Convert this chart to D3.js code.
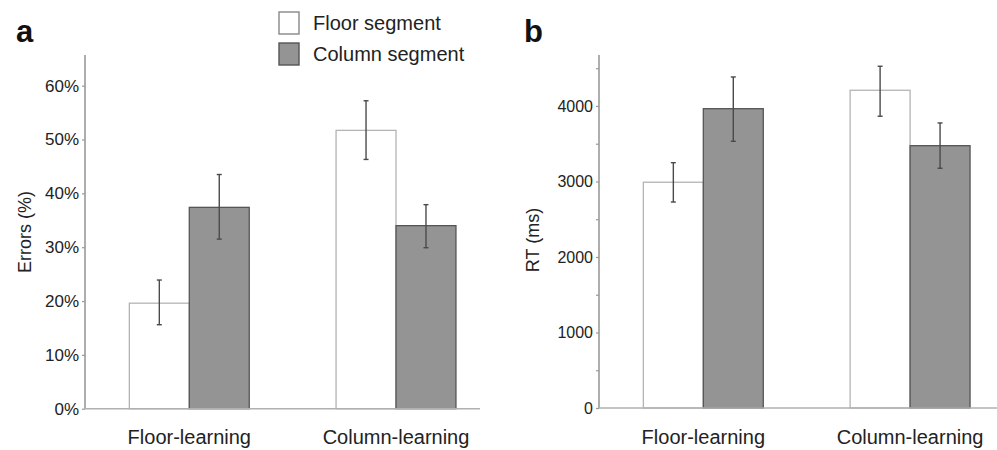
<!DOCTYPE html>
<html>
<head>
<meta charset="utf-8">
<script src="https://cdn.jsdelivr.net/npm/d3@7"></script>
<style>
  body { margin: 0; background: #fff; }
  text { font-family: Arial, "Liberation Sans", sans-serif; fill: #222; }
</style>
</head>
<body>
<svg id="chart" width="997" height="450"></svg>
<script>
// conditions and segments
var groups = ["Floor-learning", "Column-learning"]
var segments = ["Floor segment", "Column segment"]

// panel a: errors (%), [floor segment, column segment] per group
var errMean = [[19.6, 37.4], [51.7, 34.0]]
var errLow  = [[15.6, 31.5], [46.3, 29.9]]
var errHigh = [[23.9, 43.5], [57.2, 37.9]]
var errTicks = [0, 10, 20, 30, 40, 50, 60]

// panel b: RT (ms)
var rtMean = [[2990, 3964], [4208, 3474]]
var rtLow  = [[2728, 3532], [3864, 3175]]
var rtHigh = [[3249, 4384], [4526, 3775]]
var rtTicks = [0, 1000, 2000, 3000, 4000]
var rtMinor = [500, 1500, 2500, 3500, 4500]

var fills = ["#ffffff", "#949494"]
var strokes = ["#b4b4b4", "#555555"]

var svg = d3.select("#chart")

function panel(opt) {
    var g = svg.append("g")

    var y = d3.scaleLinear().domain(opt.domain).range([opt.bottom, opt.top])

    // group bands, each band holds two adjacent bars
    var x = d3.scaleBand().domain(groups).range(opt.xRange).paddingInner(0.42).paddingOuter(0.2145)
    var x1 = d3.scaleBand().domain([0, 1]).range([0, x.bandwidth()])

    // bars
    groups.forEach(function(grp, gi) {
        var cell = g.append("g").attr("transform", "translate(" + x(grp) + ",0)")
        cell.selectAll("rect")
            .data(opt.mean[gi])
            .enter().append("rect")
            .attr("x", (d, i) => x1(i))
            .attr("y", d => y(d))
            .attr("width", x1.bandwidth())
            .attr("height", d => y(0) - y(d))
            .attr("fill", (d, i) => fills[i])
            .attr("stroke", (d, i) => strokes[i])
            .attr("stroke-width", 1.3)

        // error bars
        opt.mean[gi].forEach(function(m, i) {
            var cx = x1(i) + x1.bandwidth() / 2
            var lo = y(opt.low[gi][i]), hi = y(opt.high[gi][i])
            cell.append("line").attr("x1", cx).attr("x2", cx).attr("y1", lo).attr("y2", hi)
                .attr("stroke", "#4a4a4a").attr("stroke-width", 1.4)
            ;[lo, hi].forEach(function(yy) {
                cell.append("line").attr("x1", cx - 2.5).attr("x2", cx + 2.5).attr("y1", yy).attr("y2", yy)
                    .attr("stroke", "#4a4a4a").attr("stroke-width", 1.4)
            })
        })
    })

    // y axis
    var yAxis = d3.axisLeft(y).tickValues(opt.ticks).tickSize(3).tickPadding(3).tickFormat(opt.fmt)
    var ya = g.append("g").attr("transform", "translate(" + opt.axisX + ",0)").call(yAxis)
    ya.select(".domain").remove()
    ya.selectAll(".tick line").attr("stroke", "#999").attr("stroke-width", 1.2)
    ya.selectAll(".tick text").style("font-size", opt.tickFont + "px").style("fill", "#222")

    if (opt.minor) {
        g.append("g").attr("transform", "translate(" + opt.axisX + ",0)")
            .call(d3.axisLeft(y).tickValues(opt.minor).tickSize(3).tickFormat(""))
            .call(s => s.select(".domain").remove())
            .selectAll(".tick line").attr("stroke", "#999").attr("stroke-width", 1.2)
    }

    g.append("line").attr("x1", opt.axisX).attr("x2", opt.axisX).attr("y1", opt.top).attr("y2", opt.bottom)
        .attr("stroke", "#9a9a9a").attr("stroke-width", 1.6)
    g.append("line").attr("x1", opt.axisX).attr("x2", opt.xEnd).attr("y1", opt.bottom).attr("y2", opt.bottom)
        .attr("stroke", "#b0b0b0").attr("stroke-width", 1.6)

    // category labels
    g.selectAll(".cat")
        .data(groups)
        .enter().append("text")
        .attr("x", d => x(d) + x.bandwidth() / 2)
        .attr("y", 444)
        .attr("text-anchor", "middle")
        .style("font-size", "20px")
        .text(d => d)

    // axis title
    g.append("text")
        .attr("transform", "translate(" + opt.titleX + "," + opt.titleY + ") rotate(-90)")
        .attr("text-anchor", "middle")
        .attr("dy", "0.35em")
        .style("font-size", "18px")
        .text(opt.title)

    // panel letter
    g.append("text")
        .attr("x", opt.letterX).attr("y", 42)
        .style("font-size", "31px").style("font-weight", "bold").style("fill", "#111")
        .text(opt.letter)
}

// panel a
panel({
    domain: [0, 65.7], top: 55, bottom: 408.7,
    xRange: [85, 500.3],
    axisX: 85, xEnd: 480,
    mean: errMean, low: errLow, high: errHigh,
    ticks: errTicks, fmt: d => d + "%", tickFont: 17,
    title: "Errors (%)", titleX: 25, titleY: 232,
    letter: "a", letterX: 16
})

// panel b
panel({
    domain: [0, 4675], top: 55, bottom: 408,
    xRange: [599, 1014.4],
    axisX: 599, xEnd: 997,
    mean: rtMean, low: rtLow, high: rtHigh,
    ticks: rtTicks, minor: rtMinor, fmt: d => d, tickFont: 16,
    title: "RT (ms)", titleX: 533, titleY: 240,
    letter: "b", letterX: 524
})

// legend
var legend = svg.append("g")
segments.forEach(function(s, i) {
    var row = legend.append("g").attr("transform", "translate(279," + (12 + i * 31) + ")")
    row.append("rect").attr("width", 20).attr("height", 22)
        .attr("fill", fills[i]).attr("stroke", i ? "#555" : "#888").attr("stroke-width", 1.4)
    row.append("text").attr("x", 34).attr("y", 11).attr("dy", "0.35em")
        .style("font-size", "20px").text(s)
})
</script>
</body>
</html>
